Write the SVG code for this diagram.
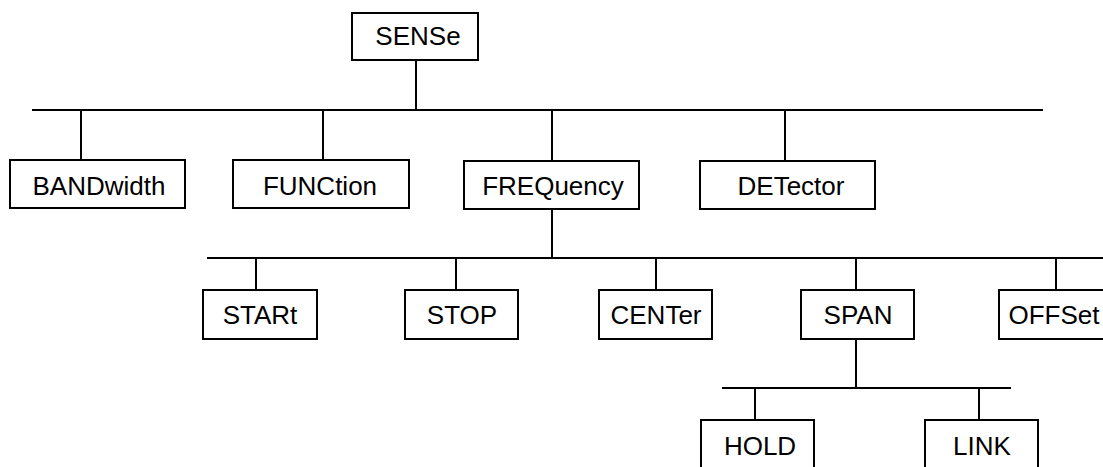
<svg xmlns="http://www.w3.org/2000/svg" width="1103" height="467" viewBox="0 0 1103 467">
<style>
.box{fill:#fff;stroke:#000;stroke-width:2}
.ln{stroke:#000;stroke-width:2;fill:none}
text{font-family:"Liberation Sans",Arial,sans-serif;font-size:26px;fill:#000;text-anchor:middle}
</style>
<rect width="1103" height="467" fill="#fff"/>
<g id="connectors" class="ln">
<line x1="416" y1="60" x2="416" y2="110"/>
<line x1="32" y1="110" x2="1043" y2="110"/>
<line x1="81" y1="110" x2="81" y2="160"/>
<line x1="323" y1="110" x2="323" y2="160"/>
<line x1="552" y1="110" x2="552" y2="161"/>
<line x1="785" y1="110" x2="785" y2="161"/>
<line x1="552" y1="209" x2="552" y2="258"/>
<line x1="207" y1="258" x2="1103" y2="258"/>
<line x1="256" y1="258" x2="256" y2="290"/>
<line x1="456" y1="258" x2="456" y2="290"/>
<line x1="656" y1="258" x2="656" y2="290"/>
<line x1="856" y1="258" x2="856" y2="290"/>
<line x1="1056" y1="258" x2="1056" y2="290"/>
<line x1="856" y1="339" x2="856" y2="388"/>
<line x1="722" y1="388" x2="1011" y2="388"/>
<line x1="755" y1="388" x2="755" y2="420"/>
<line x1="979" y1="388" x2="979" y2="420"/>
</g>
<g id="SENSe"><rect class="box" x="352" y="13" width="126" height="47"/><text x="418" y="45">SENSe</text></g>
<g id="BANDwidth"><rect class="box" x="10" y="160" width="175" height="48"/><text x="99" y="195">BANDwidth</text></g>
<g id="FUNCtion"><rect class="box" x="233" y="160" width="176" height="48"/><text x="320" y="195">FUNCtion</text></g>
<g id="FREQuency"><rect class="box" x="464" y="161" width="175" height="48"/><text x="553" y="195">FREQuency</text></g>
<g id="DETector"><rect class="box" x="700" y="161" width="175" height="48"/><text x="791" y="195">DETector</text></g>
<g id="STARt"><rect class="box" x="203" y="290" width="114" height="49"/><text x="260" y="324">STARt</text></g>
<g id="STOP"><rect class="box" x="405" y="290" width="113" height="49"/><text x="462" y="324">STOP</text></g>
<g id="CENTer"><rect class="box" x="599" y="290" width="113" height="49"/><text x="656" y="324">CENTer</text></g>
<g id="SPAN"><rect class="box" x="801" y="290" width="113" height="49"/><text x="858" y="324">SPAN</text></g>
<g id="OFFSet"><rect class="box" x="999" y="290" width="114" height="49"/><text x="1054" y="324">OFFSet</text></g>
<g id="HOLD"><rect class="box" x="701" y="420" width="113" height="50"/><text x="760" y="455">HOLD</text></g>
<g id="LINK"><rect class="box" x="925" y="420" width="113" height="50"/><text x="982" y="455">LINK</text></g>
</svg>
